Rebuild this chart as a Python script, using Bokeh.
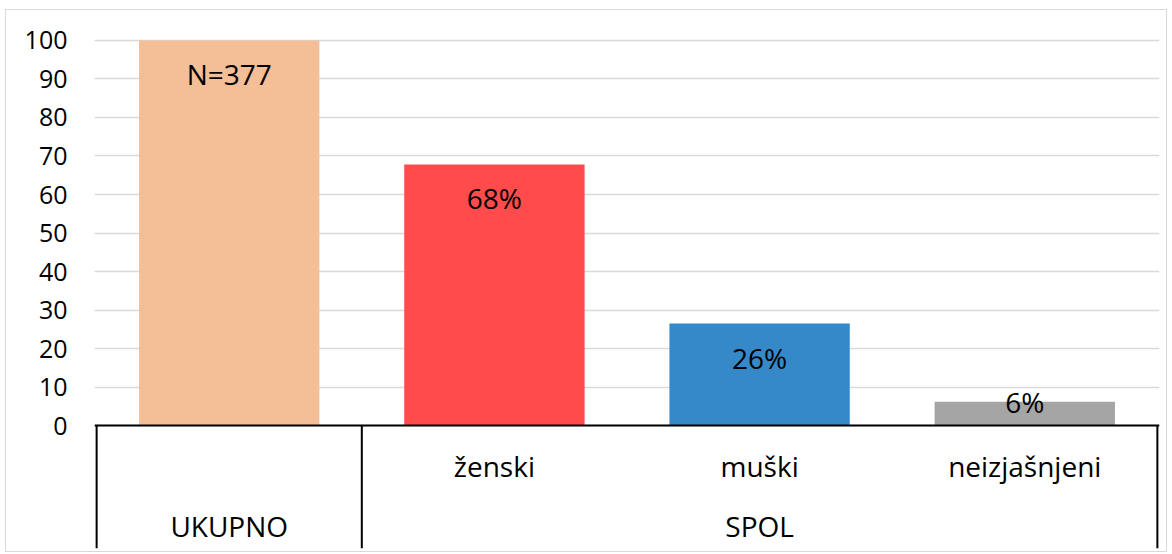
from bokeh.plotting import figure
from bokeh.models import FactorRange, Range1d, FixedTicker, ColumnDataSource
from bokeh.core.properties import value
from bokeh.embed import file_html
from bokeh.resources import INLINE

# ---- data ----
groups = ["UKUPNO", "SPOL", "SPOL", "SPOL"]
categories = ["", "ženski", "muški", "neizjašnjeni"]
values = [100, 67.8, 26.5, 6.2]
data_labels = ["N=377", "68%", "26%", "6%"]
colors = ["#F4BE96", "#FF4B4B", "#3589C9", "#A5A5A5"]
y_ticks = [0, 10, 20, 30, 40, 50, 60, 70, 80, 90, 100]

FONT = "Open Sans"
TICK_SIZE = "25px"
LABEL_SIZE = "28px"
PX_PER_UNIT = 3.85

factors = list(zip(groups, categories))
x_range = FactorRange(*factors, factor_padding=0, group_padding=0, subgroup_padding=0,
                      range_padding=0.008, range_padding_units="absolute")
y_start = -31.9
y_range = Range1d(y_start, 100.5)

p = figure(x_range=x_range, y_range=y_range, width=1160, height=541,
           output_backend="svg", toolbar_location=None,
           min_border_left=88, min_border_right=7, min_border_top=28, min_border_bottom=3)
p.outline_line_color = None
p.background_fill_color = "white"
p.styles = {"outline": "1px solid #D9D9D9", "margin-left": "6px", "margin-top": "10px"}

# bars
src = ColumnDataSource(dict(x=factors, top=values, color=colors, label=data_labels,
                            yoff=[min(34, v * PX_PER_UNIT - 24) for v in values]))
p.vbar(x="x", top="top", width=0.68, source=src, fill_color="color", line_color=None)

# data labels
p.text(x="x", y="top", text="label", y_offset="yoff", source=src,
       text_align="center", text_baseline="middle",
       text_font=value(FONT), text_font_size=LABEL_SIZE, text_color="#000000")

# group labels (second level of the category axis)
group_names = list(dict.fromkeys(groups))
group_sizes = [groups.count(g) for g in group_names]
p.text(x=group_names, y=[0] * len(group_names), text=group_names, y_offset=100,
       text_align="center", text_baseline="middle",
       text_font=value(FONT), text_font_size=LABEL_SIZE, text_color="#000000")

# separators of the category axis
sep_x = [[group_names[0], -group_sizes[0] / 2]] + [[g, n / 2] for g, n in zip(group_names, group_sizes)]
sep_src = ColumnDataSource(dict(x=sep_x, y0=[0] * len(sep_x), y1=[y_start] * len(sep_x)))
p.segment(x0="x", y0="y0", x1="x", y1="y1", source=sep_src, line_color="#000000", line_width=2)

# x axis
xa = p.xaxis[0]
xa.fixed_location = 0
xa.axis_line_color = "#000000"
xa.axis_line_width = 2
xa.major_tick_line_color = None
xa.minor_tick_line_color = None
xa.major_label_standoff = 15
xa.major_label_text_font = FONT
xa.major_label_text_font_size = LABEL_SIZE
xa.major_label_text_color = "#000000"
xa.group_text_color = None
xa.separator_line_color = None
p.xgrid.visible = False

# y axis
ya = p.yaxis[0]
ya.ticker = FixedTicker(ticks=y_ticks)
ya.axis_line_color = None
ya.major_tick_line_color = None
ya.minor_tick_line_color = None
ya.major_label_standoff = 21
ya.major_label_text_font = FONT
ya.major_label_text_font_size = TICK_SIZE
ya.major_label_text_color = "#000000"
p.ygrid.grid_line_color = "#D9D9D9"
p.ygrid.grid_line_width = 1.5

open("out.html", "w").write(file_html(p, INLINE))
